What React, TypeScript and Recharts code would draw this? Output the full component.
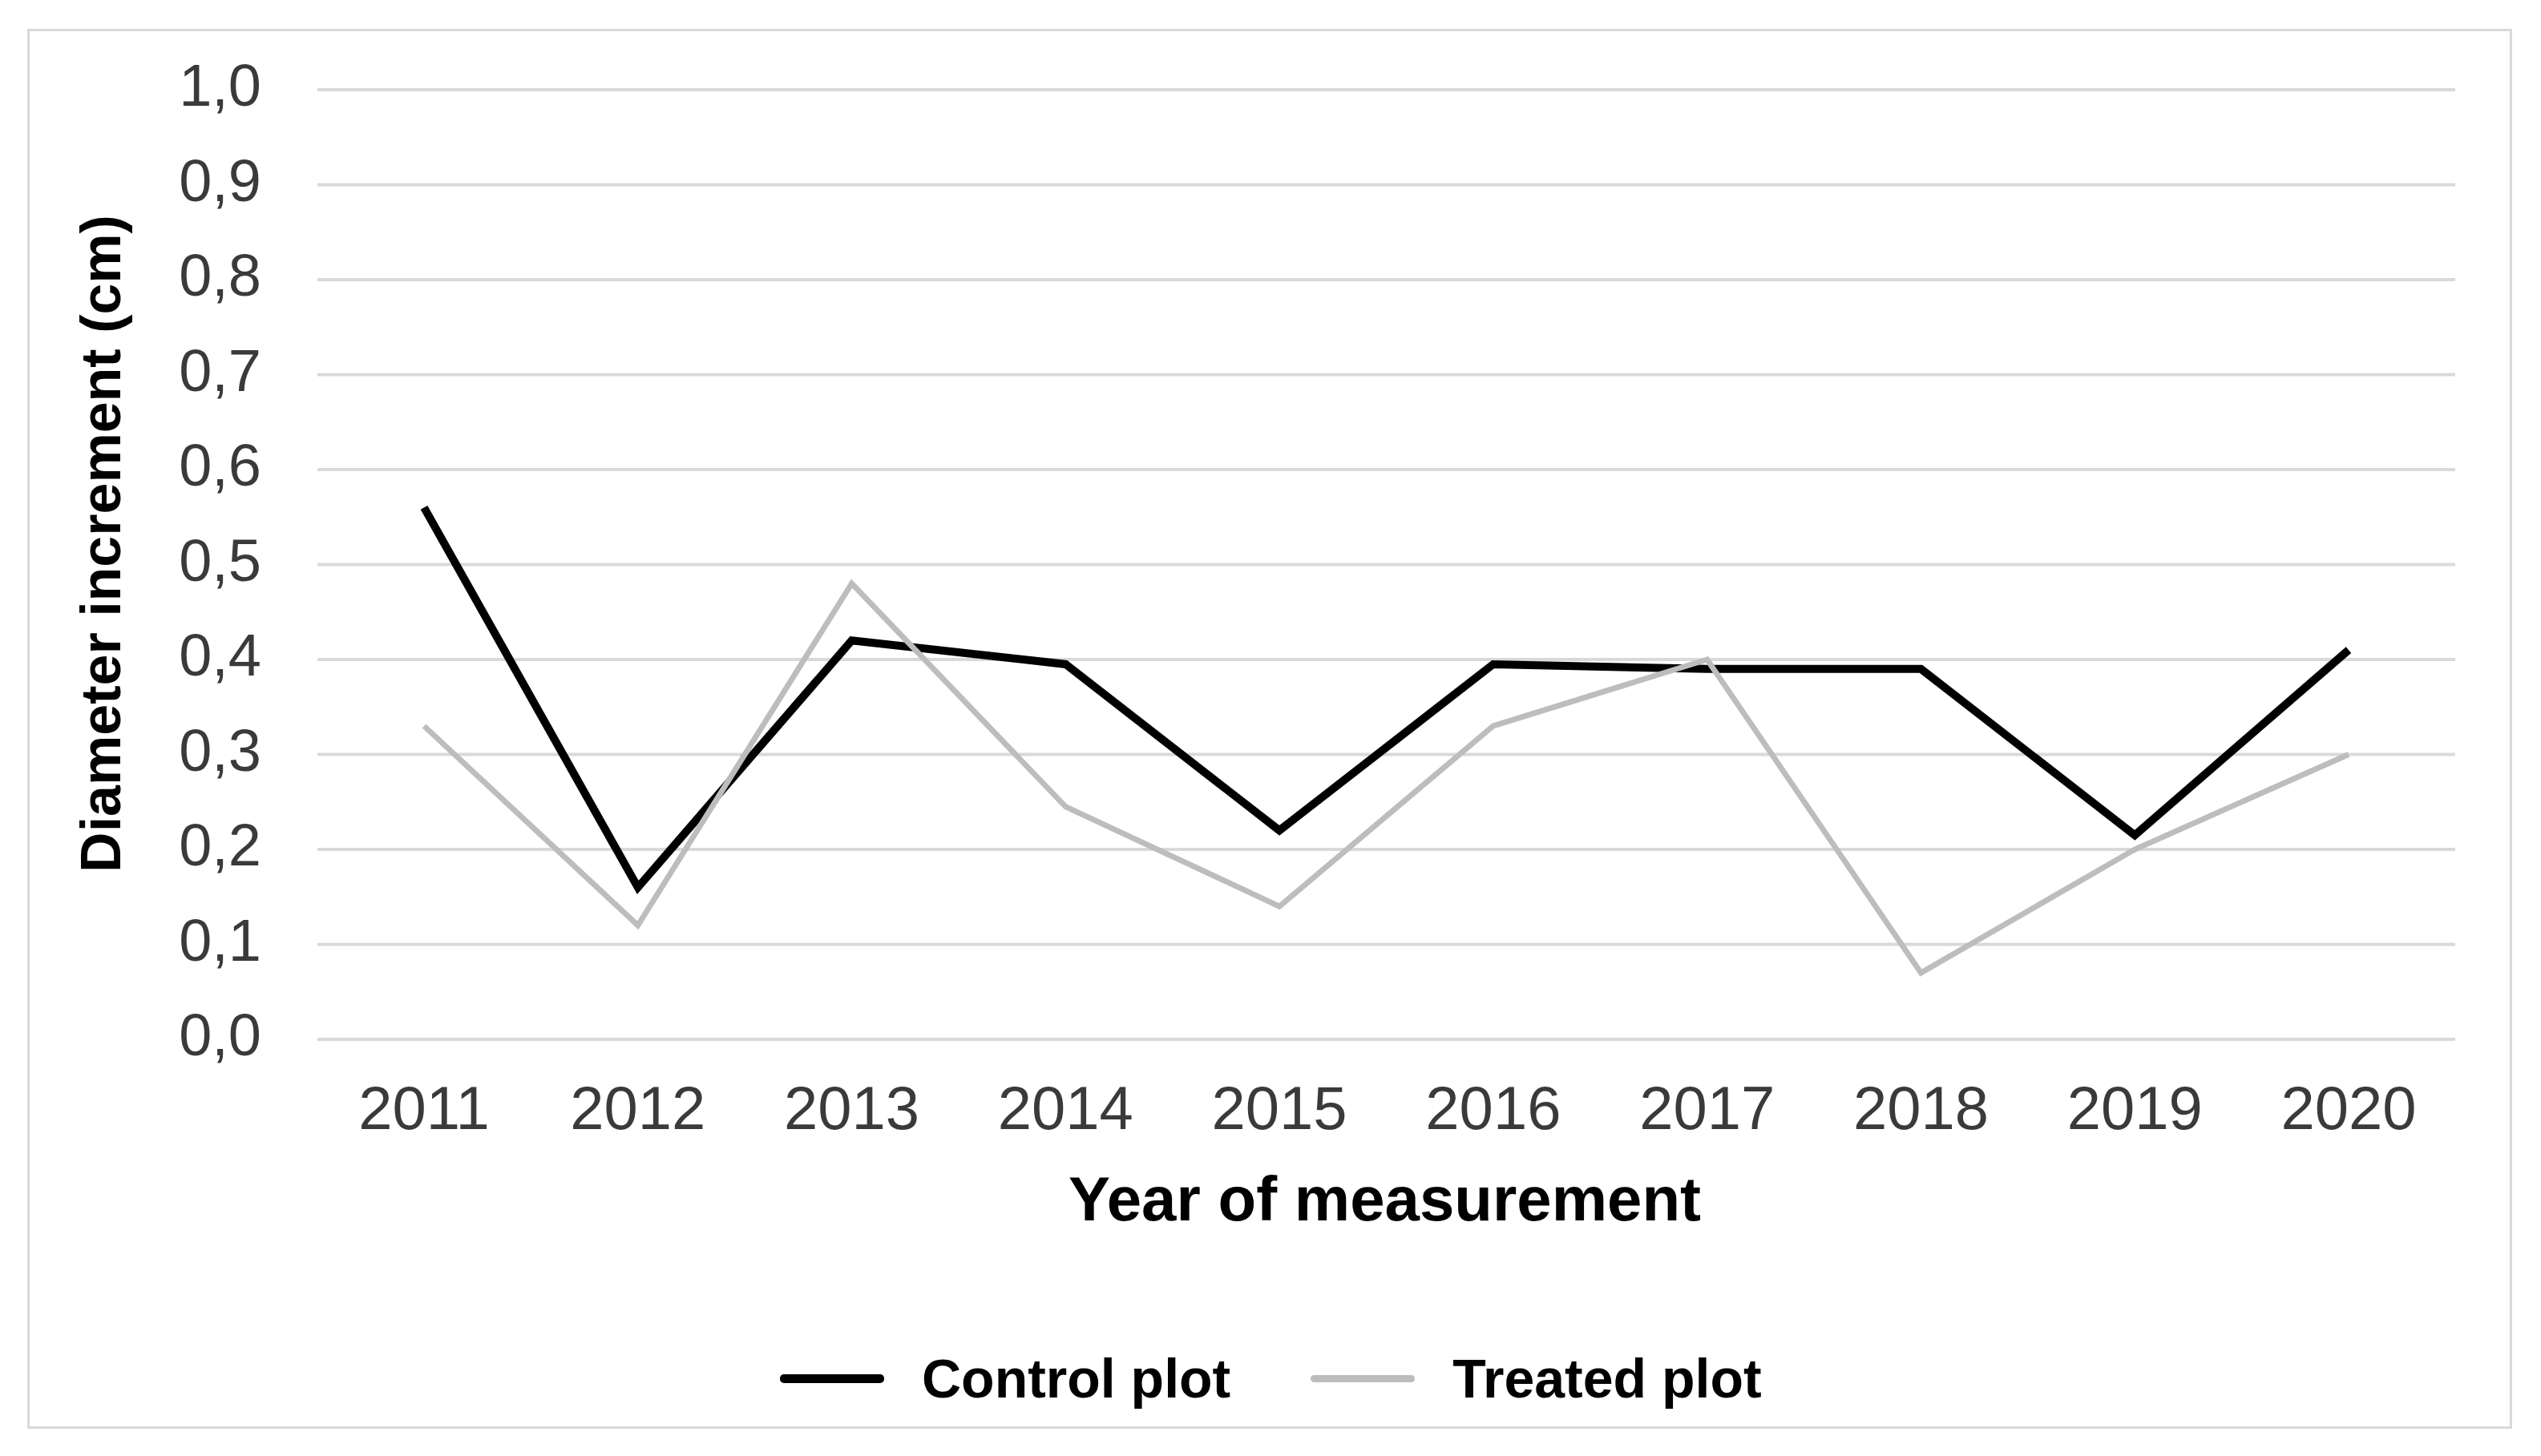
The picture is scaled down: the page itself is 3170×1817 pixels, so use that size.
import React from 'react';
import { LineChart, Line, XAxis, YAxis, CartesianGrid, Legend, Label } from 'recharts';

const years = ['2011', '2012', '2013', '2014', '2015', '2016', '2017', '2018', '2019', '2020'];
const controlPlot = [0.56, 0.16, 0.42, 0.395, 0.22, 0.395, 0.39, 0.39, 0.215, 0.41];
const treatedPlot = [0.33, 0.12, 0.48, 0.245, 0.14, 0.33, 0.4, 0.07, 0.2, 0.3];
const yTicks = [0, 0.1, 0.2, 0.3, 0.4, 0.5, 0.6, 0.7, 0.8, 0.9, 1.0];
const seriesNames = ['Control plot', 'Treated plot'];
const xTitle = 'Year of measurement';
const yTitle = 'Diameter increment (cm)';

const data = years.map((year, i) => ({
  year,
  control: controlPlot[i],
  treated: treatedPlot[i],
}));

const FONT = '"Liberation Sans", Arial, Helvetica, sans-serif';

const renderLegend = (props: any) => {
  const payload = props.payload || [];
  return (
    <div style={{ display: 'flex', alignItems: 'center', height: 80 }}>
      {payload.map((entry: any, i: number) => (
        <div
          key={i}
          style={{ display: 'flex', alignItems: 'center', marginRight: i === 0 ? 100 : 0 }}
        >
          <div
            style={{
              width: 130,
              height: i === 0 ? 11 : 9,
              background: entry.color,
              borderRadius: 5,
            }}
          />
          <span
            style={{
              marginLeft: 47,
              fontFamily: FONT,
              fontWeight: 700,
              fontSize: 68,
              lineHeight: '80px',
              color: '#000',
              whiteSpace: 'nowrap',
            }}
          >
            {entry.value}
          </span>
        </div>
      ))}
    </div>
  );
};

const YTitle = (props: any) => {
  const vb = props.viewBox || { x: 0, y: 0, width: 0, height: 0 };
  const cx = vb.x + 150;
  const cy = vb.y + vb.height / 2 - 26;
  return (
    <text
      x={cx}
      y={cy}
      transform={`rotate(-90, ${cx}, ${cy})`}
      textAnchor="middle"
      fontFamily={FONT}
      fontWeight={700}
      fontSize={70}
      fill="#000"
    >
      {yTitle}
    </text>
  );
};

const XTitle = (props: any) => {
  const vb = props.viewBox || { x: 0, y: 0, width: 0, height: 0 };
  return (
    <text
      x={vb.x + vb.width / 2 - 2}
      y={vb.y + 226}
      textAnchor="middle"
      fontFamily={FONT}
      fontWeight={700}
      fontSize={78}
      fill="#000"
    >
      {xTitle}
    </text>
  );
};

export default function App() {
  return (
    <div style={{ position: 'absolute', left: 0, top: 0, width: 3170, height: 1817, background: '#fff' }}>
      <div
        style={{
          position: 'absolute',
          left: 34,
          top: 36,
          width: 3100,
          height: 1747,
          border: '3px solid #d9d9d9',
          boxSizing: 'border-box',
          pointerEvents: 'none',
        }}
      />
      <LineChart
        width={3170}
        height={1817}
        data={data}
        margin={{ top: 112, right: 107, bottom: 370, left: 0 }}
      >
        <CartesianGrid vertical={false} stroke="#d9d9d9" strokeWidth={4} />
        <XAxis
          dataKey="year"
          height={150}
          tickLine={false}
          axisLine={false}
          tickSize={0}
          tickMargin={58}
          interval={0}
          padding={{ left: 133, right: 133 }}
          tick={{ fill: '#3a3a3a', fontSize: 76, fontFamily: FONT }}
        >
          <Label content={<XTitle />} />
        </XAxis>
        <YAxis
          width={396}
          domain={[0, 1]}
          ticks={yTicks}
          interval={0}
          tickLine={false}
          axisLine={false}
          tickSize={0}
          tickMargin={70}
          tickFormatter={(v: number) => v.toFixed(1).replace('.', ',')}
          tick={{ fill: '#3a3a3a', fontSize: 74, fontFamily: FONT, dy: -6 }}
        >
          <Label content={<YTitle />} />
        </YAxis>
        <Line
          type="linear"
          dataKey="control"
          name={seriesNames[0]}
          stroke="#000000"
          strokeWidth={10}
          dot={false}
          activeDot={false}
          isAnimationActive={false}
        />
        <Line
          type="linear"
          dataKey="treated"
          name={seriesNames[1]}
          stroke="#bdbdbd"
          strokeWidth={7}
          dot={false}
          activeDot={false}
          isAnimationActive={false}
        />
        <Legend
          content={renderLegend}
          layout="horizontal"
          verticalAlign="middle"
          align="center"
          wrapperStyle={{ left: 973, top: 1680, width: 1400, height: 80 }}
        />
      </LineChart>
    </div>
  );
}
